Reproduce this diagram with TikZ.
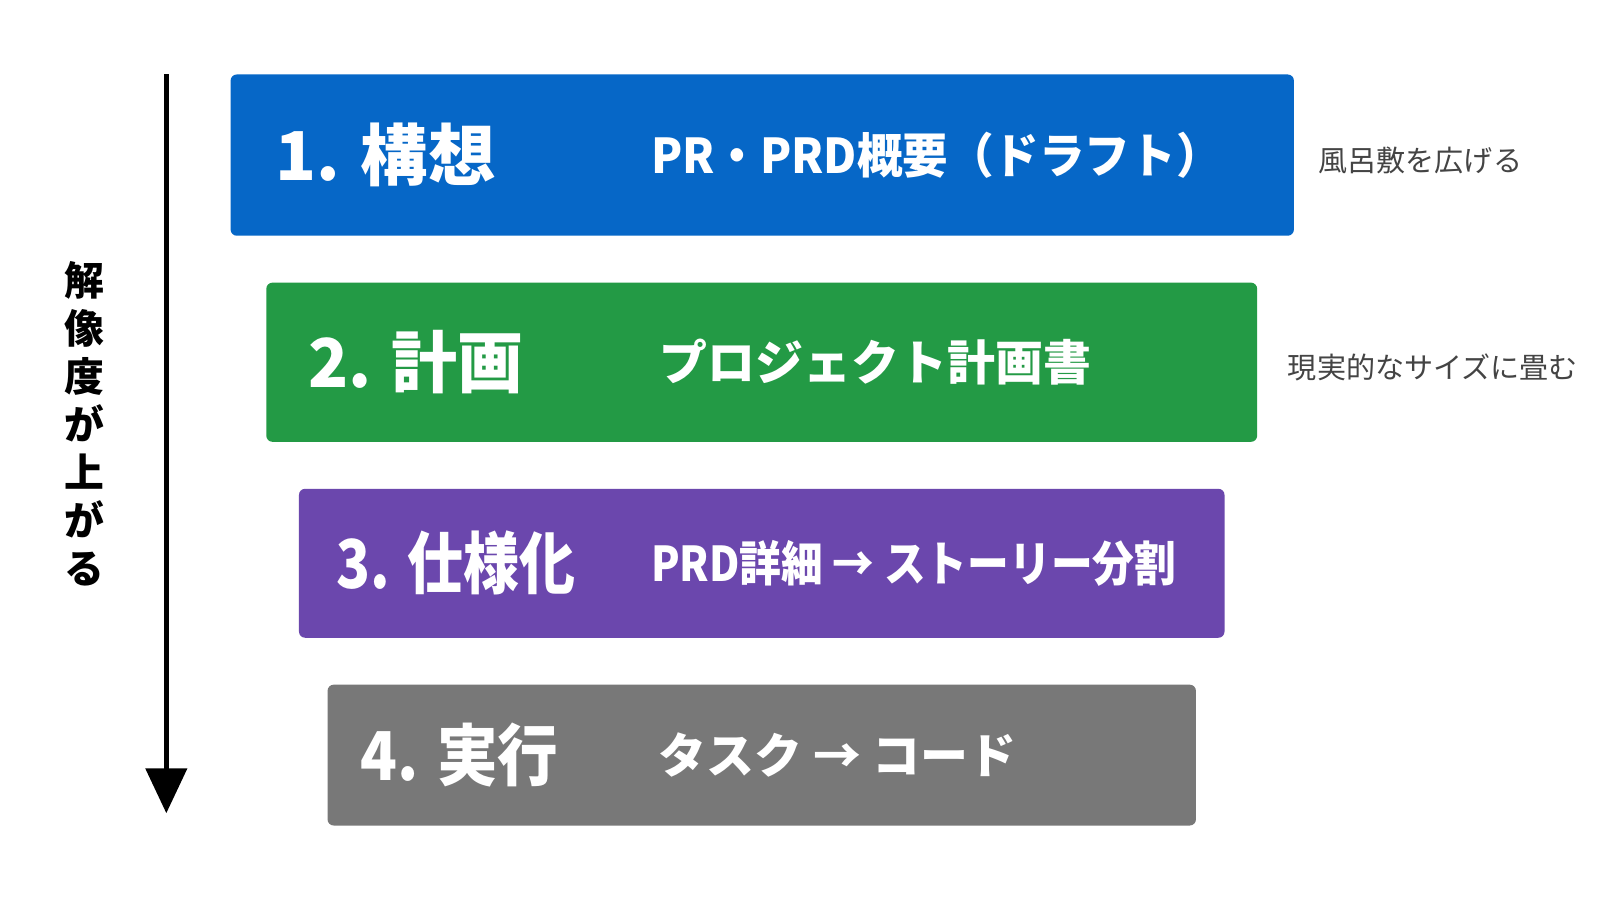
\documentclass[tikz,border=0pt]{standalone}
\usepackage{fontspec}
\usepackage{graphicx}
\setmainfont{Noto Sans CJK JP}
\usetikzlibrary{arrows.meta}

\definecolor{stepblue}{HTML}{0667C7}
\definecolor{stepgreen}{HTML}{239A45}
\definecolor{steppurple}{HTML}{6B47AD}
\definecolor{stepgray}{HTML}{787878}
\definecolor{notegray}{HTML}{444444}

\newcommand{\squeeze}[2]{\scalebox{#1}[1]{#2}}

\tikzset{
  stage/.style={rounded corners=6pt},
  headtext/.style={anchor=west,inner sep=0pt,text=white,font=\fontsize{66}{66}\selectfont\bfseries},
  subtext/.style={anchor=west,inner sep=0pt,text=white,font=\fontsize{47}{47}\selectfont\bfseries},
  notetext/.style={anchor=west,inner sep=0pt,text=notegray,font=\fontsize{28.5}{28.5}\selectfont}
}

\begin{document}
\begin{tikzpicture}[x=1pt,y=1pt,yscale=-1,xscale=1]
\useasboundingbox[fill=white] (0,0) rectangle (1568,882);

%Arrow
\coordinate (top) at (163,73);
\coordinate (bottom) at (163,797);
\draw [line width=5pt,-{Triangle[width=40pt,length=44pt]}] (top) -- (bottom);
% Text Node
\node (axis) [inner sep=0pt,align=center,font=\fontsize{39}{47}\selectfont\bfseries] at (83,415) {解\\像\\度\\が\\上\\が\\る};

%Boxes
\fill [stage,stepblue] (226,73) rectangle (1268,231);
\fill [stage,stepgreen] (261,277) rectangle (1232,433);
\fill [stage,steppurple] (293,479) rectangle (1200,625);
\fill [stage,stepgray] (321,671) rectangle (1172,809);

% Text Node
\node (h1) [headtext] at (270,152) {1. 構想};
\node (d1) [subtext] at (638,152) {\squeeze{0.95}{PR・PRD概要（ドラフト）}};
\node (n1) [notetext] at (1292,157) {風呂敷を広げる};
% Text Node
\node (h2) [headtext] at (302,355) {\squeeze{0.98}{2. 計画}};
\node (d2) [subtext] at (646,355) {プロジェクト計画書};
\node (n2) [notetext] at (1262,360) {現実的なサイズに畳む};
% Text Node
\node (h3) [headtext] at (330,552) {\squeeze{0.83}{3. 仕様化}};
\node (d3) [subtext] at (638,552) {\squeeze{0.87}{PRD詳細 → ストーリー分割}};
% Text Node
\node (h4) [headtext] at (353,740) {\squeeze{0.9}{4. 実行}};
\node (d4) [subtext] at (645,740) {タスク → コード};

\end{tikzpicture}
\end{document}
